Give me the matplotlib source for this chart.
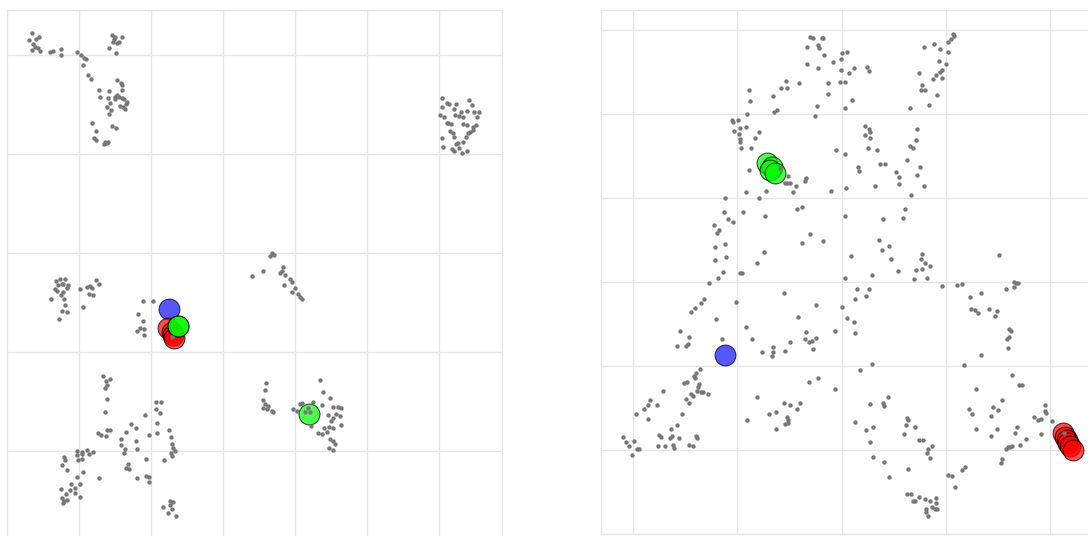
import matplotlib
matplotlib.use("Agg")
import matplotlib.pyplot as plt

# -------- Embedding coordinates (left panel) --------
left_x = [
    # upper-left arm
    -19.1, -19.4, -18.7, -18.4, -19.0, -19.1, -18.8, -18.3, -18.5, -17.3,
    -17.0, -16.2, -16.2, -14.6, -14.2, -13.9, -13.7, -14.0, -13.5, -13.2,
    -11.1, -10.8, -10.1, -11.0, -10.6, -10.4, -11.4, -10.7, -10.9,
    -12.4, -12.3, -11.4, -10.6, -10.2, -10.1, -10.1, -11.5, -10.8, -10.6,
    -10.4, -10.1, -9.9, -9.6, -9.7, -10.3, -10.0, -9.8, -11.3, -11.6,
    -11.2, -11.4, -10.8, -13.1, -12.7, -12.9, -12.7, -11.1, -10.7, -11.8,
    -11.6, -11.9, -11.5,
    # upper-right blob
    21.9, 22.4, 22.6, 21.9, 23.3, 24.6, 24.9, 21.7, 22.1, 23.1,
    23.8, 24.4, 25.1, 25.6, 25.4, 23.2, 23.6, 24.0, 22.5, 22.8,
    22.4, 24.0, 24.4, 25.3, 25.0, 22.7, 23.0, 23.1, 21.9, 24.5,
    24.7, 25.0, 24.3, 24.0, 23.5, 23.3, 22.0, 22.9, 23.1, 23.6,
    23.9, 24.4,
    # middle-left blob
    -16.7, -16.3, -15.8, -16.1, -16.5, -16.8, -16.0, -15.5, -15.6, -16.6,
    -16.0, -16.2, -15.9, -17.2, -15.8, -16.1, -15.6, -16.4, -14.3, -13.6,
    -13.3, -13.1, -12.7, -12.4, -13.4, -13.0, -14.0,
    # centre blob
    -8.0, -7.0, -8.5, -8.0, -8.3, -8.6, -7.9, -7.9, -5.1,
    # diagonal streak
    4.9, 5.1, 4.7, 6.0, 2.9, 4.0, 5.9, 5.7, 6.2, 6.7,
    6.9, 7.2, 6.1, 6.9, 7.5, 7.7, 7.9,
    # lower-right blob
    4.3, 4.2, 4.0, 4.2, 4.5, 4.0, 4.4, 4.9, 5.0, 7.0,
    7.4, 7.7, 7.9, 9.0, 9.7, 10.0, 10.7, 9.9, 8.2, 8.7,
    8.5, 11.0, 11.5, 11.8, 11.3, 10.5, 11.7, 11.0, 10.8, 11.8,
    8.8, 10.1, 10.6, 11.0, 10.4, 9.5, 9.9, 10.7, 11.0, 11.2,
    10.6, 11.0,
    # lower-left branches
    -12.0, -11.7, -11.3, -11.8, -11.6, -11.6, -11.8, -12.5, -12.2, -11.6,
    -11.3, -11.7, -10.2, -10.2, -9.7, -9.2, -8.7, -8.7, -8.6, -9.8,
    -9.9, -9.5, -9.7, -9.4, -7.8, -7.4, -6.7, -6.2, -6.7, -6.3,
    -6.6, -6.6, -5.4, -5.2, -5.1, -5.0, -4.8, -5.2, -5.1, -5.9,
    -7.7, -8.6, -7.7, -7.4, -7.4, -12.4,
    -14.6, -14.1, -13.6, -13.4, -13.0, -14.6, -14.1, -14.5, -14.1, -15.9,
    -15.8, -16.1, -15.6, -14.0, -14.6, -14.3, -15.2, -14.8, -16.2, -15.3,
    -14.3, -14.8, -15.7, -16.1, -15.9, -16.0, -15.6,
    -6.0, -5.3, -5.0, -5.3, -5.1, -5.5, -4.7,
]
left_y = [
    22.0, 21.3, 21.4, 21.6, 20.9, 20.3, 20.6, 20.2, 20.5, 20.1,
    20.2, 20.4, 19.8, 20.1, 19.8, 19.5, 19.4, 18.8, 17.8, 17.4,
    21.8, 21.6, 21.6, 21.1, 21.0, 21.1, 20.5, 20.0, 21.4,
    16.3, 15.6, 16.2, 17.3, 17.0, 16.8, 16.3, 15.5, 15.6, 15.8,
    15.6, 15.5, 15.4, 15.1, 14.9, 14.7, 14.6, 14.4, 15.0, 14.6,
    14.3, 13.9, 15.4, 13.0, 12.2, 11.5, 11.3, 12.7, 12.5, 11.1,
    11.0, 10.9, 11.1,
    15.5, 15.0, 14.9, 14.6, 14.9, 15.3, 14.8, 13.8, 13.6, 14.4,
    14.1, 14.2, 14.1, 14.1, 13.6, 13.8, 13.7, 13.6, 13.0, 12.9,
    13.0, 12.9, 12.8, 12.8, 12.6, 12.2, 12.0, 11.6, 11.5, 12.0,
    12.1, 12.3, 11.6, 11.1, 11.0, 10.9, 10.6, 10.4, 10.2, 10.5,
    10.0, 10.2,
    -2.8, -2.6, -2.6, -3.1, -3.2, -3.6, -3.1, -3.2, -3.5, -3.8,
    -3.9, -4.2, -4.6, -4.6, -5.2, -5.8, -5.9, -6.6, -3.6, -3.4,
    -3.3, -3.5, -2.7, -3.1, -4.1, -4.2, -5.4,
    -4.8, -4.8, -6.1, -6.8, -7.5, -7.8, -7.6, -8.2, -8.4,
    0.0, -0.2, -0.3, -1.4, -2.3, -1.8, -1.8, -2.0, -2.2, -2.6,
    -2.9, -3.5, -3.2, -3.9, -4.1, -4.4, -4.6,
    -13.0, -13.7, -14.7, -15.1, -15.3, -15.5, -15.6, -15.8, -15.9, -15.6,
    -15.8, -15.1, -15.0, -14.9, -12.7, -13.9, -14.5, -15.2, -15.9, -15.9,
    -15.5, -15.4, -15.4, -15.5, -16.1, -16.2, -16.3, -16.5, -16.8, -17.2,
    -17.3, -17.5, -17.4, -17.5, -17.9, -18.0, -18.1, -18.6, -18.8, -19.1,
    -19.5, -19.7,
    -12.3, -12.8, -12.6, -13.5, -13.2, -14.6, -15.9, -18.0, -18.2, -17.7,
    -17.7, -18.3, -18.6, -19.2, -17.9, -17.1, -17.5, -18.8, -19.6, -19.6,
    -20.0, -21.1, -21.5, -21.6, -16.2, -18.2, -14.9, -14.9, -15.6, -16.0,
    -17.0, -18.0, -17.7, -18.4, -19.1, -19.5, -19.8, -20.0, -20.3, -20.7,
    -20.6, -22.5, -22.3, -22.4, -22.9, -22.5,
    -19.8, -19.9, -19.7, -20.1, -19.9, -20.2, -20.1, -20.7, -20.6, -20.4,
    -20.7, -21.2, -21.7, -21.9, -22.4, -23.1, -23.1, -23.5, -23.6, -23.7,
    -24.4, -24.0, -24.1, -24.5, -24.8, -25.0, -24.7,
    -25.4, -24.8, -24.9, -25.2, -25.6, -26.0, -26.3,
]

# -------- Embedding coordinates (right panel) --------
right_x = [
    -3.2, -2.9, -2.0, -1.9, -3.5, -2.4, -2.3, -1.8, -3.5, -2.4,
    -0.9, -1.4, -1.4, -4.3, -5.6, -5.5, -6.1, -6.9, -9.3, -9.2,
    -9.5, -6.8, -6.5, -2.5, -2.7, -11.0, -10.9, -10.4, -10.8, -10.2,
    -9.6, -10.3, -10.2, -10.2, -10.1, -9.1, -8.7, -8.3, -0.6, -9.3,
    -6.2, -5.4, -5.7, -5.5, -5.2, -4.9, -4.6, -3.7, -3.6, -1.1,
    -9.6, -7.6, -8.3, -11.7, -9.9, -7.7, -4.5, -4.0, -11.8, -11.4,
    -10.9, -12.8, -12.3, -12.5, -11.7, -12.7, -11.6, -12.7, -8.5, -7.8,
    -4.0, -3.2, -1.9,
    -11.9, -12.4, -13.3, -10.2, -10.0, -13.8, -14.1, -14.7, -15.1, -10.6,
    -12.6, -16.2, -15.3, -15.4, -15.6, -16.5, -12.0, -9.6, -9.0, -8.0,
    -6.9, -6.9, -7.0, -5.7, -5.2, -5.8, -4.4, -2.6, -3.6, -3.7,
    -3.3, -3.0, -2.6, -2.9, -0.7, -14.2, -14.6, -14.8, -14.7, -15.5,
    -15.8, -14.3, -14.4, -14.5, -14.1, -13.9, -13.4, -15.1, -14.9, -15.6,
    -15.3, -17.9, -19.2, -19.4, -19.8, -18.5, -20.6, -19.4, -16.0, -16.5,
    -17.1, -18.3, -18.1, -17.2, -17.0, -16.3, -14.6, -14.5, -18.4, -17.7,
    -16.9, -16.8, -15.3, -14.9, -21.9, -21.6, -21.3, -20.8, -20.5, -20.3,
    -21.0, -8.5, -9.5, -7.3, -6.6, -6.6, -5.8, -5.2, -5.5, -5.4,
    -5.7, -5.4, -4.5, -4.2, -3.3, -2.4, -0.7,
    0.0, 0.5, -0.1, -0.1, 0.7, 1.2, -0.2, 0.3, 2.5, 2.7,
    1.0, 0.3, 8.2, 9.2, 9.8, 10.6, 10.9, 11.1, 11.2, 10.6,
    9.7, 10.4, 9.8, 10.0, 9.4, 9.1, 10.0, 7.7, 8.0, 7.9,
    8.3, 9.5, 8.7, 6.8, 2.3, 2.7, 2.3, 2.8, 2.8, 2.6,
    3.5, 0.3, 1.6, 1.7, 3.8, 4.3, 5.4, 5.7, 5.7, 3.3,
    0.4, 7.5, 7.4, 6.8, 7.1, 6.5, 7.8, 7.5, 8.2, 6.9,
    6.3, 6.1, 0.3, 4.1, 3.7, 4.0, 4.7, 4.9, 0.9, 8.0,
    7.9, 8.3, 8.8, 15.7, 7.4, 8.0, 5.6,
    0.3, 3.0, 7.2, 8.5, 1.5, 2.7, 2.4, 1.3, 0.0, 0.5,
    1.2, 1.3, 10.0, 11.5, 12.0, 12.8, 13.9, 12.9, 13.3, 13.6,
    14.7, 15.3, 15.5, 16.4, 17.2, 17.4, 17.6, 17.2, 16.7, 16.9,
    16.7, 16.5, 16.6, 13.9, 12.2, 17.0, 17.7, 18.0, 3.0, 1.8,
    4.6, 4.1, 4.2, 2.8, 1.3, 2.4, 3.1, 2.8, 3.1, 4.2,
    4.7, 6.5, 6.6, 6.4, 7.3, 6.2, 7.7, 8.1, 9.0, 8.6,
    8.5, 8.8, 6.6, 10.6, 11.0, 11.3, 12.0, 12.3, 6.5, 6.9,
    7.7, 7.1, 7.3, 8.3, 8.8, 9.4, 9.4, 8.4, 8.4, 9.0,
    9.3, 9.5, 8.6, 13.4, 12.7, 13.0, 13.4, 15.1, 15.6, 16.0,
    14.9, 15.5, 14.9, 17.0, 16.4, 16.6, 16.8, 17.8, 17.3, 17.5,
    18.4, 16.0, 15.9, 19.2, 19.6, 19.9, 20.3, 20.3, 20.4, 19.9,
    21.0, 22.2,
]
right_y = [
    24.5, 24.4, 24.4, 24.4, 23.5, 23.7, 23.4, 22.7, 21.8, 21.4,
    22.0, 19.9, 18.8, 19.9, 20.1, 19.4, 19.4, 18.6, 19.2, 18.1,
    16.8, 17.0, 17.2, 17.6, 16.6, 16.2, 16.0, 16.2, 15.1, 15.4,
    15.5, 14.8, 14.3, 14.0, 13.4, 13.4, 14.4, 15.0, 13.2, 11.2,
    11.4, 10.6, 9.9, 9.9, 9.9, 9.0, 9.6, 10.1, 10.4, 9.1,
    9.0, 9.1, 8.4, 8.4, 7.0, 6.6, 7.3, 7.5, 7.0, 6.3,
    6.0, 5.7, 5.2, 4.9, 3.8, 3.5, 2.5, 2.2, 1.9, 3.0,
    3.9, 4.8, 4.1,
    1.0, 0.4, -0.1, 0.9, 0.9, -1.7, -2.1, -2.6, -3.0, -2.0,
    -3.7, -4.9, -5.5, -6.2, -6.4, -6.4, -5.7, -4.5, -5.7, -7.0,
    -6.5, -7.0, -7.4, -6.9, -6.0, -1.1, -3.5, -2.3, -5.0, -5.7,
    -6.0, -5.9, -5.6, -6.7, -4.9, -8.7, -9.1, -9.4, -9.6, -10.0,
    -10.1, -10.2, -10.5, -10.9, -11.0, -11.0, -11.2, -11.2, -11.4, -11.7,
    -12.1, -10.9, -11.8, -12.3, -12.7, -12.3, -13.2, -13.7, -13.2, -14.3,
    -14.7, -15.3, -15.5, -15.6, -15.4, -15.6, -15.4, -15.6, -16.4, -16.4,
    -16.3, -16.6, -16.3, -16.4, -15.5, -16.0, -16.4, -15.9, -16.7, -16.7,
    -17.3, -11.5, -13.8, -13.2, -13.0, -14.7, -12.1, -12.3, -13.5, -13.8,
    -14.2, -14.1, -12.7, -12.1, -10.0, -9.6, -10.7,
    22.9, 23.0, 22.3, 21.2, 20.9, 21.4, 20.0, 20.0, 21.5, 21.1,
    18.2, 17.4, 23.5, 23.8, 23.3, 24.0, 24.3, 24.8, 24.6, 23.0,
    22.1, 21.8, 21.0, 21.2, 20.7, 20.3, 20.4, 20.9, 19.7, 19.2,
    19.2, 18.7, 17.7, 17.4, 15.6, 15.3, 14.7, 15.0, 14.4, 13.4,
    13.2, 12.8, 11.5, 11.1, 11.8, 11.8, 11.0, 10.5, 9.8, 9.6,
    9.4, 15.3, 14.2, 13.6, 13.4, 12.2, 11.5, 10.7, 9.6, 8.7,
    7.3, 6.4, 6.6, 6.3, 4.2, 3.2, 3.6, 2.3, 2.6, 2.8,
    2.3, 1.9, 1.6, 2.7, 1.2, 1.3, 1.1,
    0.4, 0.7, 0.3, 0.4, -0.7, -0.7, -1.4, -1.7, -2.5, -3.6,
    -4.0, -5.1, -0.4, -0.3, -0.2, -1.5, -1.1, -2.7, -2.8, -3.1,
    -2.7, -3.4, -2.9, -0.7, 0.0, -0.1, -0.1, -0.5, -4.7, -4.9,
    -5.5, -5.7, -6.6, -7.3, -8.3, -9.3, -10.3, -10.3, -8.2, -8.8,
    -11.5, -12.1, -12.4, -12.2, -14.0, -14.8, -14.5, -16.0, -17.5, -18.0,
    -19.5, -13.6, -13.8, -14.3, -14.5, -15.2, -15.8, -15.8, -16.4, -16.7,
    -17.1, -17.6, -18.7, -19.3, -19.4, -20.5, -18.8, -18.5, -21.2, -21.2,
    -21.5, -21.9, -21.9, -21.7, -21.9, -21.6, -22.1, -22.7, -23.0, -22.5,
    -22.7, -22.7, -23.4, -10.7, -12.7, -13.2, -14.7, -12.5, -12.8, -11.8,
    -13.4, -14.7, -15.4, -16.4, -16.7, -16.5, -16.5, -16.3, -15.1, -14.5,
    -15.7, -17.7, -18.1, -13.5, -13.8, -13.7, -12.3, -12.9, -13.1, -15.2,
    -13.9, -15.1,
]

# -------- Highlighted samples --------
left_blue_x, left_blue_y = [-5.4], [-5.6]
left_red_x = [-5.5, -5.1, -5.0, -4.9]
left_red_y = [-7.5, -7.9, -8.2, -8.5]
left_green_x = [-4.5, -4.5, 8.6]
left_green_y = [-7.3, -7.3, -16.1]

right_blue_x, right_blue_y = [-11.7], [-7.3]
right_red_x = [22.1, 22.3, 22.5, 22.6, 22.8, 23.1]
right_red_y = [-15.1, -15.5, -15.8, -16.1, -16.4, -16.8]
right_green_x = [-7.5, -7.0, -7.2, -6.7]
right_green_y = [11.9, 11.5, 11.2, 10.9]

# -------- Figure --------
fig = plt.figure(figsize=(10.88, 5.36), dpi=100)
ax_l = fig.add_axes([0.00643, -0.01866, 0.4550, 1.00093])
ax_r = fig.add_axes([0.5524, 0.00373, 0.4678, 0.97854])

grid_col = "#e6e6e6"
dot_col = "#777777"


def style(ax, xticks, yticks):
    ax.set_xticks(xticks)
    ax.set_yticks(yticks)
    ax.tick_params(length=0, labelbottom=False, labelleft=False)
    ax.grid(True, color=grid_col, linewidth=1)
    ax.set_axisbelow(True)
    for sp in ax.spines.values():
        sp.set_color(grid_col)
        sp.set_linewidth(1)


def highlight(ax, xs, ys, color):
    ax.scatter(xs, ys, s=225, color=color, alpha=0.7,
               edgecolors="black", linewidths=0.8, zorder=2)


# Left panel
ax_l.scatter(left_x, left_y, s=10, color=dot_col, linewidths=0, zorder=3)
highlight(ax_l, left_blue_x, left_blue_y, "#1010ff")
highlight(ax_l, left_red_x, left_red_y, "#ff0000")
highlight(ax_l, left_green_x, left_green_y, "#00ff00")
ax_l.set_xlim(-21.6, 27.9)
ax_l.set_ylim(-29.3, 24.35)
style(ax_l, [-14.4, -7.2, 0, 7.2, 14.4, 21.6], [-19.8, -9.9, 0, 9.9, 19.8])

# Right panel
ax_r.scatter(right_x, right_y, s=10, color=dot_col, linewidths=0, zorder=3)
highlight(ax_r, right_blue_x, right_blue_y, "#1010ff")
highlight(ax_r, right_red_x, right_red_y, "#ff0000")
highlight(ax_r, right_green_x, right_green_y, "#00ff00")
ax_r.set_xlim(-24.1, 26.8)
ax_r.set_ylim(-25.2, 27.25)
style(ax_r, [-20.9, -10.5, 0, 10.4, 20.8], [-25.2, -16.8, -8.4, 0, 8.4, 16.8, 25.2])

fig.savefig("out.png", dpi=100)
